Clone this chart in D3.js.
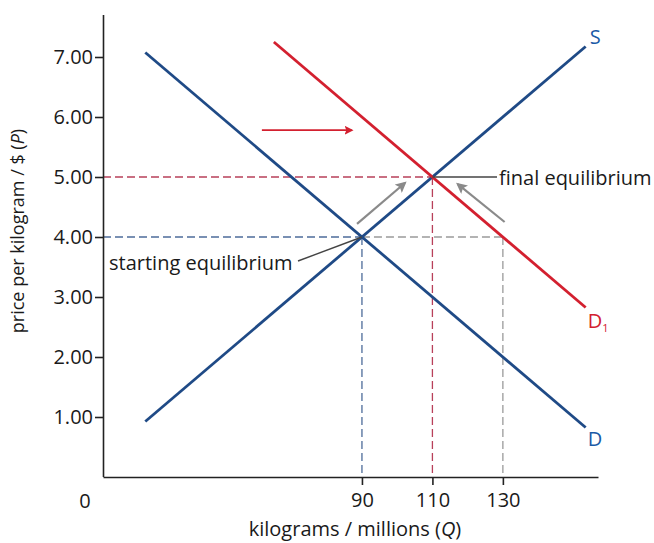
<!DOCTYPE html>
<html>
<head>
<meta charset="utf-8">
<script src="https://cdn.jsdelivr.net/npm/d3@7"></script>
<style>
  html, body { margin: 0; padding: 0; background: #fff; }
  svg { display: block; }
  text { font-family: "Open Sans", "Noto Sans", sans-serif; }
</style>
</head>
<body>
<svg id="chart" width="654" height="543"></svg>
<script>
// ---- data ----
const xTickValues = [90, 110, 130];
const yTickValues = [1, 2, 3, 4, 5, 6, 7];
const supplyLine = [[28.5, 0.925], [153.5, 7.175]];
const demandLine = [[28.5, 7.075], [153.5, 0.825]];
const demand1Line = [[65, 7.25], [153.5, 2.825]];
const startEq = [90, 4];
const finalEq = [110, 5];
const gapPoint = [130, 4];
const shiftArrow = [[61.6, 5.78], [87.1, 5.78]];
const moveArrows = [
  [[88.6, 4.22], [102.2, 4.9]],
  [[130.5, 4.25], [117.2, 4.88]]
];
const lineLabels = ["S", "D", "D"];

// ---- layout ----
const mLeft = 103, mRight = 598, mTop = 15, mBottom = 477;
const svg = d3.select("#chart");
const fs = "20px";

const x = d3.scaleLinear().domain([16.5, 157]).range([mLeft, mRight]);
const y = d3.scaleLinear().domain([0, 7.7]).range([mBottom, mTop]);

const blue = "#1f4a86";
const blueText = "#1b5aa6";
const red = "#d3202f";
const gray = "#8a8a8a";

// defs: arrowheads
const defs = svg.append("defs");
function marker(id, color) {
  defs.append("marker")
    .attr("id", id)
    .attr("viewBox", "0 0 10 10")
    .attr("refX", 8).attr("refY", 5)
    .attr("markerWidth", 5).attr("markerHeight", 5)
    .attr("markerUnits", "strokeWidth")
    .attr("orient", "auto")
    .append("path")
    .attr("d", "M0,0 L10,5 L0,10 L2,5 Z")
    .attr("fill", color);
}
marker("arrRed", red);
marker("arrGray", gray);

// dashed guide lines
function dashed(x1, y1, x2, y2, color) {
  svg.append("line")
    .attr("x1", x1).attr("y1", y1).attr("x2", x2).attr("y2", y2)
    .attr("stroke", color).attr("stroke-width", 1.3)
    .attr("stroke-dasharray", "8,4");
}
dashed(mLeft, y(startEq[1]), x(startEq[0]), y(startEq[1]), "#4d6c9a");
dashed(x(startEq[0]), y(startEq[1]), x(startEq[0]), mBottom, "#4d6c9a");
dashed(mLeft, y(finalEq[1]), x(finalEq[0]), y(finalEq[1]), "#b8405a");
dashed(x(finalEq[0]), y(finalEq[1]), x(finalEq[0]), mBottom, "#b8405a");
dashed(x(startEq[0]), y(gapPoint[1]), x(gapPoint[0]), y(gapPoint[1]), "#9a9a9a");
dashed(x(gapPoint[0]), y(gapPoint[1]), x(gapPoint[0]), mBottom, "#9a9a9a");

// axes
const xAxis = d3.axisBottom(x).tickValues(xTickValues).tickSize(8).tickSizeOuter(0).tickPadding(8);
const yAxis = d3.axisLeft(y).tickValues(yTickValues).tickFormat(d3.format(".2f")).tickSize(8).tickSizeOuter(0).tickPadding(2);

const gx = svg.append("g").attr("transform", `translate(0,${mBottom})`).call(xAxis);
const gy = svg.append("g").attr("transform", `translate(${mLeft},0)`).call(yAxis);
[gx, gy].forEach(g => {
  g.select(".domain").attr("stroke", "#222").attr("stroke-width", 1.6);
  g.selectAll(".tick line").attr("stroke", "#222").attr("stroke-width", 1.6);
  g.selectAll(".tick text").attr("fill", "#1a1a1a").style("font-size", fs)
    .style("font-family", '"Open Sans", sans-serif');
});
gy.select(".domain").attr("d", `M0.5,${mBottom}V${mTop}`);

// origin label
svg.append("text").attr("x", 85).attr("y", 508).attr("text-anchor", "middle")
  .style("font-size", fs).attr("fill", "#1a1a1a").text("0");

// axis titles
svg.append("text").attr("x", 355).attr("y", 536).attr("text-anchor", "middle")
  .style("font-size", fs).attr("fill", "#1a1a1a")
  .html('kilograms / millions (<tspan font-style="italic">Q</tspan>)');
svg.append("text").attr("transform", "translate(24,231) rotate(-90)").attr("text-anchor", "middle")
  .style("font-size", "18px").attr("fill", "#1a1a1a")
  .html('price per kilogram / $ (<tspan font-style="italic">P</tspan>)');

// curves
const line = d3.line().x(d => x(d[0])).y(d => y(d[1]));
svg.append("path").datum(demandLine).attr("d", line).attr("fill", "none").attr("stroke", blue).attr("stroke-width", 2.8);
svg.append("path").datum(supplyLine).attr("d", line).attr("fill", "none").attr("stroke", blue).attr("stroke-width", 2.8);
svg.append("path").datum(demand1Line).attr("d", line).attr("fill", "none").attr("stroke", red).attr("stroke-width", 2.8);

// arrows
svg.append("path").datum(shiftArrow).attr("d", line).attr("fill", "none")
  .attr("stroke", red).attr("stroke-width", 1.8).attr("marker-end", "url(#arrRed)");
moveArrows.forEach(a => {
  svg.append("path").datum(a).attr("d", line).attr("fill", "none")
    .attr("stroke", gray).attr("stroke-width", 2.2).attr("marker-end", "url(#arrGray)");
});

// leader lines and annotations
svg.append("line").attr("x1", x(finalEq[0])).attr("y1", y(finalEq[1])).attr("x2", 497).attr("y2", y(finalEq[1]))
  .attr("stroke", "#444").attr("stroke-width", 1.4);
svg.append("text").attr("x", 499).attr("y", 185).style("font-size", fs).attr("fill", "#1a1a1a").text("final equilibrium");
svg.append("line").attr("x1", x(startEq[0])).attr("y1", y(startEq[1])).attr("x2", 298).attr("y2", 261)
  .attr("stroke", "#444").attr("stroke-width", 1.4);
svg.append("text").attr("x", 109).attr("y", 270).style("font-size", fs).attr("fill", "#1a1a1a").text("starting equilibrium");

// curve labels
svg.append("text").attr("x", x(supplyLine[1][0]) + 4).attr("y", 44).style("font-size", fs).attr("fill", blueText).text(lineLabels[0]);
svg.append("text").attr("x", x(demandLine[1][0]) + 2).attr("y", 446).style("font-size", fs).attr("fill", blueText).text(lineLabels[1]);
const d1 = svg.append("text").attr("x", x(demand1Line[1][0]) + 2).attr("y", 328).style("font-size", fs).attr("fill", red);
d1.append("tspan").text(lineLabels[2]);
d1.append("tspan").attr("dy", 4).style("font-size", "11px").text("1");
</script>
</body>
</html>
